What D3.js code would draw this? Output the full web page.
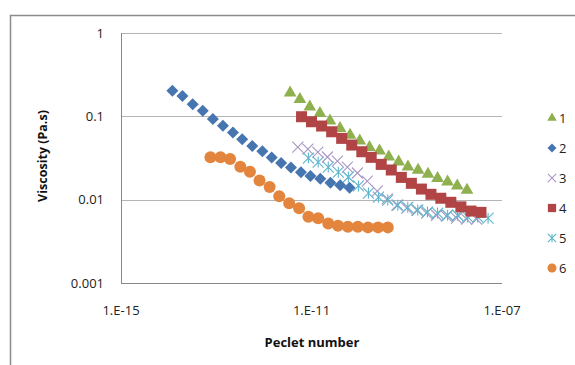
<!DOCTYPE html>
<html>
<head>
<meta charset="utf-8">
<script src="https://cdn.jsdelivr.net/npm/d3@7"></script>
<style>
  body { margin: 0; background: #fff; }
  svg { display: block; font-family: "Open Sans", "Liberation Sans", sans-serif; }
</style>
</head>
<body>
<div class="container"></div>
<script>
// series values (Peclet number, viscosity Pa.s)
const pe1 = [3.56e-12, 5.7e-12, 9.2e-12, 1.5e-11, 2.44e-11, 3.97e-11, 6.45e-11, 1.03e-10, 1.65e-10, 2.68e-10, 4.19e-10, 6.75e-10, 1.06e-9, 1.73e-9, 2.79e-9, 4.43e-9, 7.2e-9, 1.15e-8, 1.84e-8];
const visc1 = [0.192, 0.16, 0.13, 0.1086, 0.0885, 0.0718, 0.0597, 0.0509, 0.0425, 0.0386, 0.0327, 0.0285, 0.0248, 0.0227, 0.0203, 0.018, 0.0164, 0.0147, 0.013];

const pe2 = [1.2e-14, 1.95e-14, 3.2e-14, 5.2e-14, 8.5e-14, 1.38e-13, 2.24e-13, 3.5e-13, 5.7e-13, 9.3e-13, 1.46e-12, 2.3e-12, 3.7e-12, 6.0e-12, 9.5e-12, 1.53e-11, 2.5e-11, 4.0e-11, 6.3e-11];
const visc2 = [0.203, 0.175, 0.14, 0.117, 0.093, 0.077, 0.064, 0.053, 0.044, 0.038, 0.032, 0.0275, 0.0243, 0.0214, 0.0192, 0.0178, 0.016, 0.0149, 0.0139];

const pe3 = [5.16e-12, 8.4e-12, 1.36e-11, 2.16e-11, 3.5e-11, 5.66e-11, 9.2e-11, 1.48e-10, 2.4e-10, 3.9e-10, 6.2e-10, 1.0e-9, 1.62e-9, 2.6e-9, 4.2e-9, 6.8e-9, 1.11e-8, 1.81e-8, 2.94e-8];
const visc3 = [0.0428, 0.0405, 0.0373, 0.0325, 0.029, 0.0246, 0.0209, 0.0167, 0.0127, 0.0102, 0.0086, 0.0079, 0.0075, 0.0069, 0.0065, 0.00635, 0.006, 0.00585, 0.00585];

const pe4 = [6.18e-12, 1.0e-11, 1.63e-11, 2.65e-11, 4.3e-11, 7.0e-11, 1.14e-10, 1.79e-10, 2.91e-10, 4.73e-10, 7.7e-10, 1.25e-9, 2.03e-9, 3.22e-9, 5.19e-9, 8.43e-9, 1.37e-8, 2.23e-8, 3.62e-8];
const visc4 = [0.0989, 0.0861, 0.0765, 0.0653, 0.0544, 0.0452, 0.0376, 0.0322, 0.0265, 0.0227, 0.0185, 0.0157, 0.0134, 0.0116, 0.0104, 0.0093, 0.0082, 0.0073, 0.00704];

const pe5 = [8.6e-12, 1.38e-11, 2.25e-11, 3.66e-11, 5.94e-11, 9.66e-11, 1.57e-10, 2.55e-10, 4.0e-10, 6.5e-10, 1.05e-9, 1.7e-9, 2.72e-9, 4.43e-9, 7.2e-9, 1.17e-8, 1.9e-8, 3.08e-8, 5.1e-8];
const visc5 = [0.0316, 0.0283, 0.0246, 0.0214, 0.0187, 0.0146, 0.012, 0.0107, 0.0099, 0.0086, 0.0081, 0.0075, 0.0071, 0.0069, 0.0065, 0.0065, 0.0062, 0.0062, 0.006];

const pe6 = [7.55e-14, 1.23e-13, 1.95e-13, 3.2e-13, 5.1e-13, 8.1e-13, 1.32e-12, 2.1e-12, 3.4e-12, 5.5e-12, 8.6e-12, 1.38e-11, 2.25e-11, 3.6e-11, 5.8e-11, 9.4e-11, 1.53e-10, 2.5e-10, 4.0e-10];
const visc6 = [0.0322, 0.0322, 0.0307, 0.0248, 0.0216, 0.017, 0.0142, 0.011, 0.00903, 0.00787, 0.00624, 0.00597, 0.00519, 0.00486, 0.00473, 0.00473, 0.00465, 0.00465, 0.00465];

const seriesNames = ["1", "2", "3", "4", "5", "6"];
const xTicks = [1e-15, 1e-11, 1e-7];
const xTickLabels = ["1.E-15", "1.E-11", "1.E-07"];
const yTicks = [0.001, 0.01, 0.1, 1];
const yTickLabels = ["0.001", "0.01", "0.1", "1"];

// legend order 1..6, with Excel 2007 colours / markers
const series = [
  { name: "1", pe: pe1, visc: visc1, color: "#8fb04f", shape: "triangle" },
  { name: "2", pe: pe2, visc: visc2, color: "#4675b0", shape: "diamond" },
  { name: "3", pe: pe3, visc: visc3, color: "#a996c4", shape: "x" },
  { name: "4", pe: pe4, visc: visc4, color: "#b14444", shape: "square" },
  { name: "5", pe: pe5, visc: visc5, color: "#5fb5cc", shape: "star" },
  { name: "6", pe: pe6, visc: visc6, color: "#e3853d", shape: "circle" },
];
// draw order: back to front as in the picture
const drawOrder = ["6", "2", "3", "5", "1", "4"];

const width = 575;
const height = 365;
const margin = { top: 33, right: 73, bottom: 82, left: 121 };

const svg = d3
  .select(".container")
  .append("svg")
  .attr("width", width)
  .attr("height", height);

// outer chart frame (only left and top edges are visible)
svg
  .append("path")
  .attr("d", "M10.5,365 V15.5 H575")
  .attr("fill", "none")
  .attr("stroke", "#8c8c8c")
  .attr("stroke-width", 1.5);

const x = d3
  .scaleLog()
  .domain([1e-15, 1e-7])
  .range([margin.left, width - margin.right]);
const y = d3
  .scaleLog()
  .domain([0.001, 1])
  .range([height - margin.bottom, margin.top]);

// gridlines
svg
  .append("g")
  .selectAll("line")
  .data(yTicks)
  .join("line")
  .attr("x1", x(1e-15))
  .attr("x2", x(1e-7))
  .attr("y1", (d) => Math.round(y(d)) + 0.5)
  .attr("y2", (d) => Math.round(y(d)) + 0.5)
  .attr("stroke", (d) => (d === 0.001 ? "#888" : "#b4b4b4"))
  .attr("stroke-width", 1);

svg
  .append("line")
  .attr("x1", x(1e-15) + 0.5)
  .attr("x2", x(1e-15) + 0.5)
  .attr("y1", y(1))
  .attr("y2", y(0.001))
  .attr("stroke", "#888");

// tick labels
svg
  .append("g")
  .selectAll("text")
  .data(yTicks)
  .join("text")
  .attr("x", x(1e-15) - 17)
  .attr("y", (d) => y(d))
  .attr("dy", "0.35em")
  .attr("text-anchor", "end")
  .attr("font-size", 13)
  .attr("fill", "#222")
  .text((d, i) => yTickLabels[i]);

svg
  .append("g")
  .selectAll("text")
  .data(xTicks)
  .join("text")
  .attr("x", (d) => x(d))
  .attr("y", y(0.001) + 27)
  .attr("dy", "0.35em")
  .attr("text-anchor", "middle")
  .attr("font-size", 13)
  .attr("fill", "#222")
  .text((d, i) => xTickLabels[i]);

// axis titles
svg
  .append("text")
  .attr("x", 312)
  .attr("y", 342)
  .attr("dy", "0.35em")
  .attr("text-anchor", "middle")
  .attr("font-size", 13)
  .attr("font-weight", "bold")
  .attr("fill", "#111")
  .text("Peclet number");

svg
  .append("text")
  .attr("transform", "translate(43,156) rotate(-90)")
  .attr("dy", "0.35em")
  .attr("text-anchor", "middle")
  .attr("font-size", 12.5)
  .attr("font-weight", "bold")
  .attr("fill", "#111")
  .text("Viscosity (Pa.s)");

// marker drawing
function drawMarker(g, shape, color, s) {
  if (shape === "triangle") {
    g.append("path")
      .attr("d", d3.symbol(d3.symbolTriangle, 70 * s * s)())
      .attr("fill", color);
  } else if (shape === "diamond") {
    const r = 6 * s;
    g.append("path")
      .attr("d", `M0,${-r}L${r},0L0,${r}L${-r},0Z`)
      .attr("fill", color);
  } else if (shape === "square") {
    const h = 5.5 * s;
    g.append("rect")
      .attr("x", -h)
      .attr("y", -h)
      .attr("width", 2 * h)
      .attr("height", 2 * h)
      .attr("fill", color);
  } else if (shape === "circle") {
    g.append("circle").attr("r", 6 * s).attr("fill", color);
  } else if (shape === "x") {
    const h = 5.5 * s;
    g.append("path")
      .attr("d", `M${-h},${-h}L${h},${h}M${-h},${h}L${h},${-h}`)
      .attr("stroke", color)
      .attr("stroke-width", 1.1)
      .attr("fill", "none");
  } else if (shape === "star") {
    const h = 5.5 * s;
    g.append("path")
      .attr("d", `M${-h},${-h}L${h},${h}M${-h},${h}L${h},${-h}M0,${-h}L0,${h}`)
      .attr("stroke", color)
      .attr("stroke-width", 1.1)
      .attr("fill", "none");
  }
}

const plot = svg.append("g");
drawOrder.forEach((name) => {
  const s = series.find((d) => d.name === name);
  const pts = s.pe.map((p, i) => ({ p, v: s.visc[i] }));
  plot
    .append("g")
    .selectAll("g")
    .data(pts)
    .join("g")
    .attr("transform", (d) => `translate(${x(d.p)},${y(d.v)})`)
    .each(function () {
      drawMarker(d3.select(this), s.shape, s.color, 1);
    });
});

// legend
const legend = svg
  .append("g")
  .selectAll("g")
  .data(series)
  .join("g")
  .attr("transform", (d, i) => `translate(552,${118 + i * 30})`);

legend.each(function (d) {
  drawMarker(d3.select(this), d.shape, d.color, 0.75);
});

legend
  .append("text")
  .attr("x", 7)
  .attr("dy", "0.35em")
  .attr("font-size", 13)
  .attr("fill", "#222")
  .text((d) => d.name);
</script>
</body>
</html>
